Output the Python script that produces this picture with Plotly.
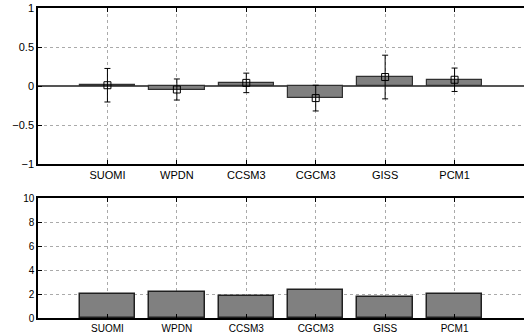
import plotly.graph_objects as go

models = ["SUOMI", "WPDN", "CCSM3", "CGCM3", "GISS", "PCM1"]
trend = [0.01, -0.045, 0.04, -0.155, 0.115, 0.08]
trend_err = [0.215, 0.135, 0.125, 0.165, 0.28, 0.15]
ratio = [2.03, 2.2, 1.83, 2.31, 1.72, 1.97]
xpos = [1, 2, 3, 4, 5, 6]

W, H = 524, 334
fig = go.Figure()

fig.add_trace(go.Bar(x=xpos, y=trend, width=0.8, marker=dict(color="#808080", line=dict(color="#303030", width=1.2)),
                     xaxis="x", yaxis="y", showlegend=False))
fig.add_trace(go.Scatter(x=xpos, y=trend, mode="markers",
                         marker=dict(symbol="square-open", size=7, color="black", line=dict(width=1)),
                         error_y=dict(type="data", array=trend_err, color="black", thickness=1, width=3),
                         xaxis="x", yaxis="y", showlegend=False))
fig.add_trace(go.Bar(x=xpos, y=ratio, width=0.8, marker=dict(color="#808080", line=dict(color="#202020", width=1.5)),
                     xaxis="x2", yaxis="y2", showlegend=False))

font = dict(family="Liberation Sans, Arial, sans-serif", size=11, color="black")
font2 = dict(family="Liberation Sans, Arial, sans-serif", size=10, color="black")
common_x = dict(range=[0, 7], tickvals=xpos, ticktext=models, showgrid=True, gridcolor="#aaaaaa",
                griddash="dot", gridwidth=1, showline=True, mirror="ticks", linecolor="black", linewidth=1.5,
                ticks="inside", ticklen=4, tickcolor="black", zeroline=False,
                domain=[38 / W, 1], automargin=False)
common_y = dict(showgrid=True, gridcolor="#aaaaaa", griddash="dot", showline=True, mirror=False,
                linecolor="black", linewidth=1.5, ticks="inside", ticklen=4, tickcolor="black",
                automargin=False)
fig.update_layout(
    width=W, height=H, margin=dict(l=0, r=0, t=0, b=0, autoexpand=False),
    paper_bgcolor="white", plot_bgcolor="white", bargap=0,
    xaxis=dict(**common_x, anchor="y", tickfont=font),
    xaxis2=dict(**common_x, anchor="y2", tickfont=font2),
    yaxis=dict(**common_y, range=[-1, 1], dtick=0.5, domain=[1 - 164 / H, 1 - 8 / H],
               zeroline=True, zerolinecolor="#555555", zerolinewidth=1.5, tickfont=font, anchor="x"),
    yaxis2=dict(**common_y, range=[0, 10], dtick=2, domain=[1 - 318 / H, 1 - 198 / H],
                zeroline=False, tickfont=font2, anchor="x2"),
)

fig.write_html("out.html")
